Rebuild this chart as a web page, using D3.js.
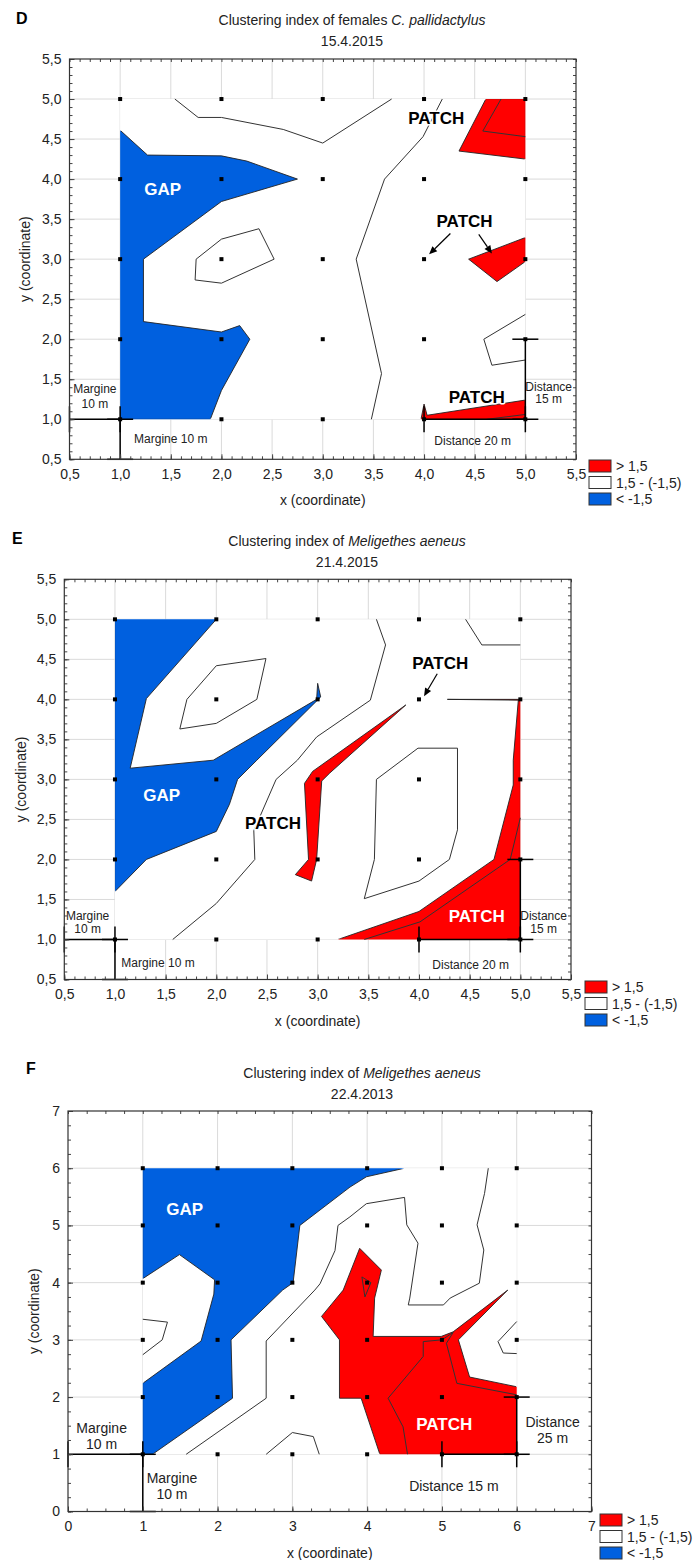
<!DOCTYPE html>
<html>
<head>
<meta charset="utf-8">
<script src="https://cdn.jsdelivr.net/npm/d3@7"></script>
<style>
body { margin: 0; background: #fff; }
text { font-family: "Liberation Sans", Arial, sans-serif; }
</style>
</head>
<body>
<script>
// colours of the three classes
const blueC = "#0060df", redC = "#ff0000";
const legendLabels = ["> 1,5", "1,5 - (-1,5)", "< -1,5"];
const legendColors = [redC, "#ffffff", blueC];

// ---------- panel D ----------
const dTicks = [0.5, 1, 1.5, 2, 2.5, 3, 3.5, 4, 4.5, 5, 5.5];
const dTickLabels = ["0,5","1,0","1,5","2,0","2,5","3,0","3,5","4,0","4,5","5,0","5,5"];
const dGrid = [1, 2, 3, 4, 5];
const dBlue = [[1,4.61],[1.27,4.3],[2.0,4.29],[2.25,4.225],[2.75,4.0],[2.0,3.72],[1.23,3.0],[1.23,2.22],
  [2.0,2.09],[2.18,2.17],[2.28,2.0],[2.0,1.36],[1.89,1.0],[1.0,1.0]];
const dRed = [
  [[4.61,5.0],[5.0,5.0],[5.0,4.25],[4.345,4.35]],
  [[4.44,3.0],[5.0,3.27],[5.0,2.97],[4.72,2.72]],
  [[3.97,1.0],[4.0,1.19],[4.03,1.05],[5.0,1.24],[5.0,1.0]]
];
const dLines = [
  [[1.54,5.0],[1.77,4.77],[2.0,4.77],[2.61,4.62],[3.0,4.45],[3.68,5.0]],
  [[4.18,5.0],[3.99,4.53],[3.61,4.0],[3.33,3.0],[3.58,1.57],[3.48,1.0]],
  [[5.0,2.31],[4.59,2.0],[4.67,1.675],[5.0,1.74]],
  [[1.75,3.0],[2.0,3.25],[2.37,3.38],[2.52,3.0],[2.0,2.70],[1.74,2.74],[1.75,3.0]],
  [[4.76,5.0],[4.58,4.6],[5.0,4.53]],
  [[4.62,1.0],[5.0,1.06]]
];

// ---------- panel E ----------
const eTicks = dTicks;
const eTickLabels = dTickLabels;
const eGrid = [1, 2, 3, 4, 5];
const eBlue = [[1,5],[2,5],[1.31,4.01],[1.15,3.14],[1.97,3.24],[2.99,4.0],[3.0,4.2],[3.03,4.03],[2.4,3.24],
  [2.21,3.0],[2.13,2.69],[2.0,2.35],[1.31,2.0],[1.0,1.6]];
const eRed = [
  [[3.87,3.93],[2.95,3.1],[2.87,2.95],[2.91,2.0],[2.78,1.81],[2.94,1.73],[2.99,2.0],[3.04,2.98],[3.12,3.08]],
  [[4.28,4.0],[5.0,4.0],[5.0,1.0],[3.2,1.0],[4.0,1.35],[4.74,2.0],[4.93,2.93],[4.93,3.24],[4.98,3.99]]
];
const eLines = [
  [[2.0,4.42],[2.49,4.51],[2.40,4.0],[2.0,3.70],[1.64,3.63],[1.71,4.0],[2.0,4.42]],
  [[3.58,5.0],[3.67,4.68],[3.52,3.99],[3.22,3.73],[2.99,3.53],[2.8,3.24],[2.59,3.0],[2.37,2.36],[2.38,2.0],[2.0,1.45],[1.57,1.0]],
  [[4.46,5.0],[4.62,4.68],[5.0,4.68]],
  [[3.58,3.0],[3.56,2.0],[3.46,1.51],[4.0,1.73],[4.3,2.0],[4.38,2.37],[4.38,3.39],[3.99,3.39],[3.58,3.0]],
  [[5.0,2.52],[4.90,2.0],[4.01,1.22],[3.46,1.0]]
];

// ---------- panel F ----------
const fTicks = [0, 1, 2, 3, 4, 5, 6, 7];
const fTickLabels = ["0","1","2","3","4","5","6","7"];
const fGrid = [1, 2, 3, 4, 5, 6];
const fBlue = [[1,6],[4.5,6],[3.99,5.85],[3.77,5.67],[3.1,5.0],[3.01,4.0],[2.87,3.87],[2.18,3.0],[2.2,1.98],
  [1.13,1.0],[1,1],[1,2.24],[1.78,2.98],[1.95,3.8],[1.96,4.05],[1.49,4.49],[1,4.07]];
const fRed = [
  [[3.39,3.41],[3.68,3.87],[3.9,4.6],[4.19,4.22],[4.1,3.73],[4.08,3.06],[4.99,3.06],[5.15,3.14],[5.88,3.87],
   [5.22,3.0],[5.37,2.35],[6.0,2.18],[6.0,1.0],[4.17,1.0],[3.92,1.98],[3.63,1.98],[3.63,3.0]]
];
const fLines = [
  [[1.58,1.0],[2.65,1.98],[2.65,2.98],[3.3,3.87],[3.37,3.98],[3.57,4.56],[3.61,5.0],[3.77,5.15],[3.99,5.38],
   [4.5,5.49],[4.53,5.01],[4.68,4.69],[4.57,3.73],[4.55,3.61],[5.02,3.61],[5.11,3.73],[5.5,3.99],[5.56,4.57],
   [5.47,5.01],[5.57,5.56],[5.62,6.0]],
  [[1.0,3.36],[1.33,3.31],[1.26,3.0],[1.0,2.74]],
  [[2.65,1.0],[3.0,1.38],[3.28,1.31],[3.36,1.0]],
  [[6.0,3.32],[5.75,2.97],[5.82,2.77],[6.0,2.76]],
  [[4.54,1.0],[4.48,1.48],[4.28,1.98],[4.75,2.71],[4.75,2.97],[5.0,3.0],[5.15,3.13],[5.06,2.94],[5.2,2.24],[6.0,2.04]],
  [[3.93,4.1],[4.05,4.0],[3.97,3.75],[3.93,4.1]]
];

const svg = d3.select("body").append("svg")
  .attr("width", 694).attr("height", 1560);

function drawPanel(p) {
  const g = svg.append("g");
  const lo = p.ticks[0], hi = p.ticks[p.ticks.length - 1];
  const x = d3.scaleLinear().domain([lo, hi]).range([p.l, p.r]);
  const y = d3.scaleLinear().domain([lo, hi]).range([p.b, p.t]);
  const line = d3.line().x(d => x(d[0])).y(d => y(d[1]));
  const g0 = p.grid[0], g1 = p.grid[p.grid.length - 1];

  // grid lines
  const inner = p.ticks.slice(1, -1);
  g.append("g").selectAll("line").data(inner).join("line")
    .attr("x1", d => x(d)).attr("x2", d => x(d)).attr("y1", p.t).attr("y2", p.b)
    .attr("stroke", "#dadada");
  g.append("g").selectAll("line").data(inner).join("line")
    .attr("y1", d => y(d)).attr("y2", d => y(d)).attr("x1", p.l).attr("x2", p.r)
    .attr("stroke", "#dadada");

  // white sampled area
  g.append("rect")
    .attr("x", x(g0)).attr("y", y(g1))
    .attr("width", x(g1) - x(g0)).attr("height", y(g0) - y(g1))
    .attr("fill", "#fff");

  // filled classes
  g.append("path").attr("d", line(p.blue) + "Z").attr("fill", blueC);
  p.red.forEach(r => g.append("path").attr("d", line(r) + "Z").attr("fill", redC));

  // outlines, but not on the border of the area
  const id = "clip" + p.letter;
  svg.append("clipPath").attr("id", id).append("rect")
    .attr("x", x(g0) + 0.8).attr("y", y(g1) + 0.8)
    .attr("width", x(g1) - x(g0) - 1.6).attr("height", y(g0) - y(g1) - 1.6);
  const outl = g.append("g").attr("clip-path", `url(#${id})`)
    .attr("fill", "none").attr("stroke", "#222").attr("stroke-width", 0.9);
  outl.append("path").attr("d", line(p.blue) + "Z");
  p.red.forEach(r => outl.append("path").attr("d", line(r) + "Z"));

  // contour lines
  g.append("g").selectAll("path").data(p.lines).join("path")
    .attr("d", d => line(d)).attr("fill", "none")
    .attr("stroke", "#333").attr("stroke-width", 1);

  // sampling points
  g.append("g").selectAll("rect").data(d3.cross(p.grid, p.grid)).join("rect")
    .attr("x", d => x(d[0]) - 2).attr("y", d => y(d[1]) - 2)
    .attr("width", 4).attr("height", 4).attr("fill", "#000");

  // distance measures
  const mg = g.append("g").attr("stroke", "#000").attr("stroke-width", 1.5);
  p.measures.forEach(m => {
    const X1 = x(m[0]), Y1 = y(m[1]), X2 = x(m[2]), Y2 = y(m[3]);
    mg.append("line").attr("x1", X1).attr("y1", Y1).attr("x2", X2).attr("y2", Y2);
    const horiz = Y1 === Y2, c = 13;
    [[X1, Y1], [X2, Y2]].forEach(([a, b]) => {
      if (horiz) mg.append("line").attr("x1", a).attr("x2", a).attr("y1", b - c).attr("y2", b + c);
      else mg.append("line").attr("y1", b).attr("y2", b).attr("x1", a - c).attr("x2", a + c);
    });
  });

  // arrows
  p.arrows.forEach(a => {
    const X1 = x(a[0]), Y1 = y(a[1]), X2 = x(a[2]), Y2 = y(a[3]);
    const ang = Math.atan2(Y2 - Y1, X2 - X1), L = 8, w = 3.5;
    const bx = X2 - L * Math.cos(ang), by = Y2 - L * Math.sin(ang);
    g.append("line").attr("x1", X1).attr("y1", Y1).attr("x2", bx).attr("y2", by)
      .attr("stroke", "#000").attr("stroke-width", 1.2);
    g.append("path").attr("fill", "#000")
      .attr("d", `M${X2},${Y2}L${bx - w * Math.sin(ang)},${by + w * Math.cos(ang)}L${bx + w * Math.sin(ang)},${by - w * Math.cos(ang)}Z`);
  });

  // texts in the plot
  p.notes.forEach(n => {
    const t = g.append("text").attr("x", x(n.x)).attr("y", y(n.y)).attr("dy", "0.35em")
      .attr("text-anchor", "middle").style("font-size", (n.s || p.noteSize) + "px").text(n.t);
    if (n.k === "gap") t.attr("fill", "#fff").style("font-weight", "bold");
    else if (n.k === "patchW") t.attr("fill", "#fff").style("font-weight", "bold");
    else if (n.k === "patch") t.attr("fill", "#000").style("font-weight", "bold")
      .attr("stroke", "#fff").attr("stroke-width", 3).attr("paint-order", "stroke").attr("stroke-linejoin", "round");
    else t.attr("fill", "#222");
  });

  // axes: ticks inside on all four sides
  const minor = d3.range(lo, hi + 1e-9, p.minor);
  const axes = [
    [d3.axisBottom(x), `translate(0,${p.b})`],
    [d3.axisTop(x), `translate(0,${p.t})`],
    [d3.axisLeft(y), `translate(${p.l},0)`],
    [d3.axisRight(y), `translate(${p.r},0)`]
  ];
  axes.forEach(([ax, tr]) => {
    g.append("g").attr("transform", tr)
      .call(ax.tickValues(minor).tickSize(-3).tickSizeOuter(0).tickFormat(""))
      .call(s => s.select(".domain").remove())
      .selectAll("line").attr("stroke", "#444");
  });
  g.append("g").attr("transform", `translate(0,${p.b})`)
    .call(d3.axisBottom(x).tickValues(p.ticks).tickFormat((d, i) => p.tickLabels[i]).tickSize(-5).tickSizeOuter(0).tickPadding(10))
    .call(s => s.select(".domain").remove())
    .call(s => s.selectAll("line").attr("stroke", "#444"))
    .selectAll("text").style("font-size", "14px").attr("fill", "#222")
    .style("font-family", "'Liberation Sans', Arial, sans-serif");
  g.append("g").attr("transform", `translate(${p.l},0)`)
    .call(d3.axisLeft(y).tickValues(p.ticks).tickFormat((d, i) => p.tickLabels[i]).tickSize(-5).tickSizeOuter(0).tickPadding(8))
    .call(s => s.select(".domain").remove())
    .call(s => s.selectAll("line").attr("stroke", "#444"))
    .selectAll("text").style("font-size", "14px").attr("fill", "#222")
    .style("font-family", "'Liberation Sans', Arial, sans-serif");

  g.append("rect").attr("x", p.l).attr("y", p.t).attr("width", p.r - p.l).attr("height", p.b - p.t)
    .attr("fill", "none").attr("stroke", "#333").attr("stroke-width", 1.2);

  // axis titles
  g.append("text").attr("x", (p.l + p.r) / 2).attr("y", p.b + 46).attr("text-anchor", "middle")
    .style("font-size", "14px").attr("fill", "#222").text("x (coordinate)");
  g.append("text").attr("transform", `translate(${p.yTitleX},${(p.t + p.b) / 2}) rotate(-90)`)
    .attr("text-anchor", "middle").style("font-size", "14px").attr("fill", "#222").text("y (coordinate)");

  // title
  const t1 = g.append("text").attr("x", p.titleX).attr("y", p.titleY).attr("text-anchor", "middle")
    .style("font-size", "14px").attr("fill", "#222");
  t1.append("tspan").text(p.title[0]);
  t1.append("tspan").style("font-style", "italic").text(p.title[1]);
  g.append("text").attr("x", p.titleX).attr("y", p.titleY + 21).attr("text-anchor", "middle")
    .style("font-size", "14px").attr("fill", "#222").text(p.date);
  g.append("text").attr("x", p.letterX).attr("y", p.letterY)
    .style("font-size", "16px").style("font-weight", "bold").text(p.letter);

  // legend
  legendLabels.forEach((lab, i) => {
    const yy = p.legY + i * 16.5;
    g.append("rect").attr("x", p.legX).attr("y", yy).attr("width", 22).attr("height", 12)
      .attr("fill", legendColors[i]).attr("stroke", "#333").attr("stroke-width", 1);
    g.append("text").attr("x", p.legX + 27).attr("y", yy + 11).style("font-size", "14px")
      .attr("fill", "#222").text(lab);
  });
}

drawPanel({
  letter: "D", letterX: 16, letterY: 24,
  title: ["Clustering index of females ", "C. pallidactylus"], date: "15.4.2015", titleX: 352, titleY: 25,
  l: 69.5, r: 576, t: 59, b: 459.3, yTitleX: 30,
  ticks: dTicks, tickLabels: dTickLabels, minor: 0.1, grid: dGrid,
  blue: dBlue, red: dRed, lines: dLines,
  measures: [[0.5,1,1,1],[1,0.5,1,1],[5,1,5,2],[4,1,5,1]],
  arrows: [[4.26,3.32,4.05,3.06],[4.54,3.31,4.67,3.07]],
  noteSize: 12,
  notes: [
    {t: "GAP", x: 1.42, y: 3.87, k: "gap", s: 17},
    {t: "PATCH", x: 4.12, y: 4.76, k: "patch", s: 17},
    {t: "PATCH", x: 4.40, y: 3.48, k: "patch", s: 17},
    {t: "PATCH", x: 4.52, y: 1.28, k: "patch", s: 17},
    {t: "Margine", x: 0.75, y: 1.375}, {t: "10 m", x: 0.75, y: 1.19},
    {t: "Margine 10 m", x: 1.50, y: 0.75},
    {t: "Distance", x: 5.23, y: 1.41}, {t: "15 m", x: 5.23, y: 1.25},
    {t: "Distance 20 m", x: 4.48, y: 0.725}
  ],
  legX: 589, legY: 460
});

drawPanel({
  letter: "E", letterX: 12, letterY: 544,
  title: ["Clustering index of ", "Meligethes aeneus"], date: "21.4.2015", titleX: 347, titleY: 546,
  l: 64.3, r: 571, t: 579.3, b: 979.5, yTitleX: 26,
  ticks: eTicks, tickLabels: eTickLabels, minor: 0.1, grid: eGrid,
  blue: eBlue, red: eRed, lines: eLines,
  measures: [[0.5,1,1,1],[1,0.5,1,1],[5,1,5,2],[4,1,5,1]],
  arrows: [[4.18,4.32,4.05,4.04]],
  noteSize: 12,
  notes: [
    {t: "GAP", x: 1.46, y: 2.81, k: "gap", s: 17},
    {t: "PATCH", x: 2.56, y: 2.45, k: "patch", s: 17},
    {t: "PATCH", x: 4.21, y: 4.45, k: "patch", s: 17},
    {t: "PATCH", x: 4.57, y: 1.29, k: "patchW", s: 17},
    {t: "Margine", x: 0.73, y: 1.29}, {t: "10 m", x: 0.73, y: 1.13},
    {t: "Margine 10 m", x: 1.425, y: 0.706},
    {t: "Distance", x: 5.23, y: 1.29}, {t: "15 m", x: 5.23, y: 1.13},
    {t: "Distance 20 m", x: 4.51, y: 0.68}
  ],
  legX: 585, legY: 981
});

drawPanel({
  letter: "F", letterX: 26, letterY: 1074,
  title: ["Clustering index of ", "Meligethes aeneus"], date: "22.4.2013", titleX: 362, titleY: 1078,
  l: 68, r: 591.5, t: 1111, b: 1511.5, yTitleX: 39,
  ticks: fTicks, tickLabels: fTickLabels, minor: 0.25, grid: fGrid,
  blue: fBlue, red: fRed, lines: fLines,
  measures: [[0,1,1,1],[1,0,1,1],[6,1,6,2],[5,1,6,1]],
  arrows: [],
  noteSize: 14,
  notes: [
    {t: "GAP", x: 1.56, y: 5.29, k: "gap", s: 17},
    {t: "PATCH", x: 5.03, y: 1.535, k: "patchW", s: 17},
    {t: "Margine", x: 0.45, y: 1.455}, {t: "10 m", x: 0.45, y: 1.177},
    {t: "Margine", x: 1.39, y: 0.58}, {t: "10 m", x: 1.39, y: 0.306},
    {t: "Distance", x: 6.48, y: 1.56}, {t: "25 m", x: 6.48, y: 1.28},
    {t: "Distance 15 m", x: 5.16, y: 0.44}
  ],
  legX: 600, legY: 1514
});
</script>
</body>
</html>
